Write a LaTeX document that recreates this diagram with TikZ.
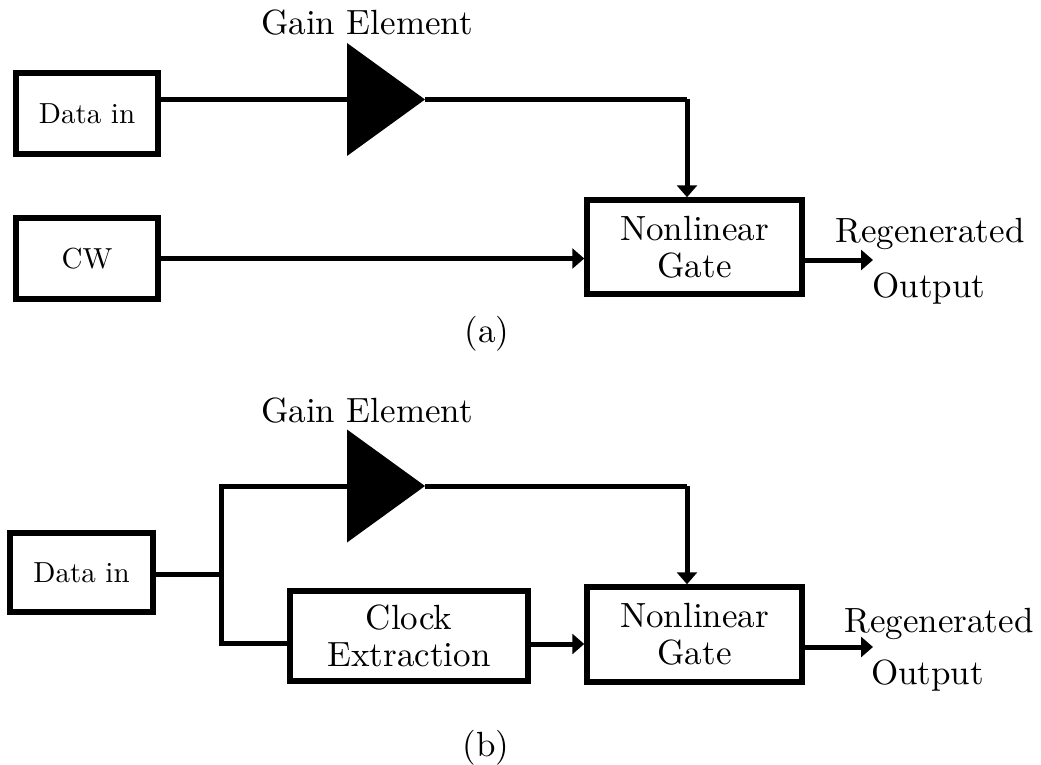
\documentclass[tikz,border=0pt]{standalone}
\usepackage{fontspec}
\setmainfont{lmroman10-regular.otf}
\usetikzlibrary{arrows.meta}
\tikzset{
  blk/.style={draw, line width=5.5pt, inner sep=0pt, align=center},
  small/.style={font=\fontsize{29}{33}\selectfont},
  big/.style={font=\fontsize{35}{37}\selectfont},
  wire/.style={line width=5pt},
  feed/.style={line width=5pt, -{Triangle[length=12pt,width=20pt]}},
  amp/.style={fill=black},
  lbl/.style={font=\fontsize{35}{37}\selectfont, anchor=base, inner sep=0pt},
}
\begin{document}
\begin{tikzpicture}[x=1pt, y=-1pt]
\useasboundingbox (0,0) rectangle (1041,765);

% ---------------- (a) ----------------
\node[blk, small, minimum width=142pt, minimum height=81pt] (dataA) at (87,113.5) {Data in};
\node[blk, small, minimum width=142pt, minimum height=81pt] (cw) at (87,258.5) {CW};
\node[blk, big, minimum width=215pt, minimum height=94pt] (gateA) at (694.5,247) {Nonlinear\\Gate};

\coordinate (gainA) at (347,99.5);
\coordinate (tipA) at (425,99.5);
\coordinate (jA) at (687,99.5);
\coordinate (outA) at (873,260);

\draw[wire] (dataA.east |- gainA) -- (gainA);
\fill[amp] (gainA) ++(0,-56.5) -- ++(0,113) -- (tipA) -- cycle;
\draw[wire, line join=miter] (tipA) -- (jA);
\draw[feed] (jA) -- (jA |- gateA.north);
\draw[feed] (cw.east) -- (cw.east -| gateA.west);
\draw[feed] (outA -| gateA.east) -- (outA);

\node[lbl] (gainlblA) at (367,35) {Gain Element};
\node[lbl] (regA) at (930,242) {Regenerated};
\node[lbl] (outlblA) at (929,297) {Output};
\node[lbl] (capA) at (487,342) {(a)};

% ---------------- (b) ----------------
\node[blk, small, minimum width=143pt, minimum height=79pt] (dataB) at (81.5,572.5) {Data in};
\node[blk, big, minimum width=238pt, minimum height=90pt] (clock) at (409,636) {Clock\\Extraction};
\node[blk, big, minimum width=215pt, minimum height=95pt] (gateB) at (694.5,634.5) {Nonlinear\\Gate};

\coordinate (split) at (221,574);
\coordinate (upB) at (221,486);
\coordinate (dnB) at (221,643);
\coordinate (gainB) at (347,486);
\coordinate (tipB) at (425,486);
\coordinate (jB) at (687,486);
\coordinate (clkout) at (531,644);
\coordinate (outB) at (873,647);

\draw[wire] (dataB.east |- split) -- (split);
\draw[wire, line join=miter] (clock.west |- dnB) -- (dnB) -- (upB) -- (gainB);
\fill[amp] (gainB) ++(0,-56.5) -- ++(0,113) -- (tipB) -- cycle;
\draw[wire] (tipB) -- (jB);
\draw[feed] (jB) -- (jB |- gateB.north);
\draw[feed] (clock.east |- clkout) -- (clkout -| gateB.west);
\draw[feed] (outB -| gateB.east) -- (outB);

\node[lbl] (gainlblB) at (367,422) {Gain Element};
\node[lbl] (regB) at (939,632) {Regenerated};
\node[lbl] (outlblB) at (927.5,684) {Output};
\node[lbl] (capB) at (486,756) {(b)};
\end{tikzpicture}
\end{document}
